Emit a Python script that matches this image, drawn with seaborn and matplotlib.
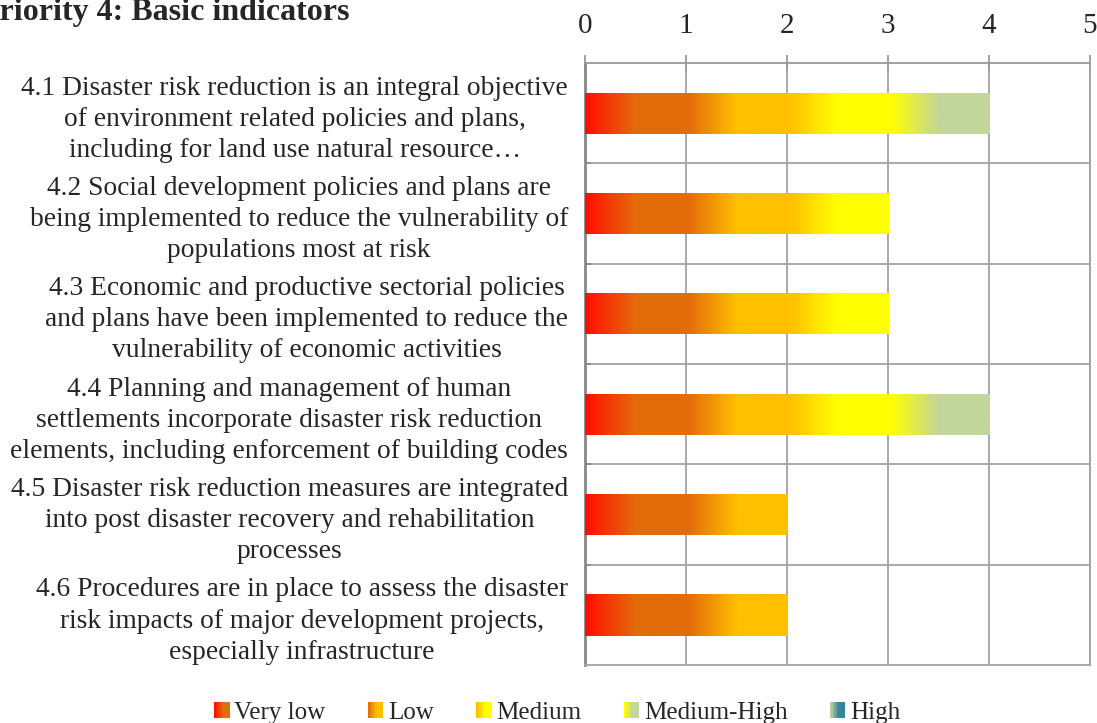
import numpy as np
import pandas as pd
import matplotlib
matplotlib.use("Agg")
import matplotlib.pyplot as plt
from matplotlib.colors import to_rgb
from matplotlib.patches import Rectangle
from matplotlib.legend_handler import HandlerBase
import seaborn as sns

# data
indicators = [
    "4.1 Disaster risk reduction is an integral objective\nof environment related policies and plans,\nincluding for land use natural resource\u2026",
    "4.2 Social development policies and plans are\nbeing implemented to reduce the vulnerability of\npopulations most at risk",
    "4.3 Economic and productive sectorial policies\nand plans have been implemented to reduce the\nvulnerability of economic activities",
    "4.4 Planning and management of human\nsettlements incorporate disaster risk reduction\nelements, including enforcement of building codes",
    "4.5 Disaster risk reduction measures are integrated\ninto post disaster recovery and rehabilitation\nprocesses",
    "4.6 Procedures are in place to assess the disaster\nrisk impacts of major development projects,\nespecially infrastructure",
]
scores = [4, 3, 3, 4, 2, 2]
levels = ["Very low", "Low", "Medium", "Medium-High", "High"]
level_colors = ["#E36C0A", "#FFC000", "#FFFF00", "#C3D69B", "#31859C"]
start_color = "#FF1000"
x_ticks = [0, 1, 2, 3, 4, 5]

df = pd.DataFrame({"indicator": indicators, "score": scores})

sns.set_theme(style="white")
plt.rcParams["font.family"] = ["Liberation Serif", "DejaVu Serif"]

fig = plt.figure(figsize=(10.97, 7.23), dpi=100)
ax = fig.add_axes([0.533, 0.080, 0.4605, 0.833])

sns.barplot(data=df, x="score", y="indicator", orient="h", width=0.41,
            color="white", edgecolor="none", ax=ax)

# colour ramp: each level fades in from the previous colour over its first half
starts = [to_rgb(start_color)] + [to_rgb(c) for c in level_colors[:-1]]
ends = [to_rgb(c) for c in level_colors]


def ramp(xs):
    out = np.zeros((len(xs), 3))
    for i, x in enumerate(xs):
        k = min(int(np.floor(x)), len(levels) - 1)
        t = np.clip((x - k - 0.02) / 0.48, 0, 1)
        out[i] = np.array(starts[k]) * (1 - t) + np.array(ends[k]) * t
    return out


for patch in ax.patches:
    x0, y0 = patch.get_x(), patch.get_y()
    w, h = patch.get_width(), patch.get_height()
    if w <= 0:
        continue
    xs = np.linspace(x0, x0 + w, 400, endpoint=False) + w / 800
    img = ramp(xs)[np.newaxis, :, :]
    im = ax.imshow(img, extent=[x0, x0 + w, y0 + h, y0], aspect="auto",
                   interpolation="bilinear", zorder=3)
    im.set_clip_path(patch)

ax.set_xlim(0, 5)
ax.set_ylim(len(indicators) - 0.5, -0.5)
ax.set_aspect("auto")
ax.set_xticks(x_ticks)
ax.set_yticks(range(len(indicators)))
ax.set_yticklabels(indicators, multialignment="center", linespacing=1.32)
ax.set_yticks([i + 0.5 for i in range(len(indicators) - 1)], minor=True)
ax.set_xlabel("")
ax.set_ylabel("")

ax.xaxis.tick_top()
ax.tick_params(axis="x", which="major", direction="inout", length=12, width=1.3,
               color="#9a9a9a", pad=11, labelsize=21)
ax.tick_params(axis="y", which="major", length=0, pad=12, labelsize=19.8)
ax.tick_params(axis="y", which="minor", left=True, direction="in", length=4,
               width=1.3, color="#8a8a8a")

ax.grid(True, axis="x", which="major", color="#a3a3a3", lw=1.3, zorder=0)
ax.grid(True, axis="y", which="minor", color="#a3a3a3", lw=1.3, zorder=0)
ax.set_axisbelow(True)
for name, sp in ax.spines.items():
    sp.set_visible(True)
    sp.set_color("#a3a3a3")
    sp.set_linewidth(1.3)
ax.spines["left"].set_color("#888888")
ax.spines["left"].set_linewidth(2)
ax.spines["top"].set_color("#999999")

fig.text(-0.018, 0.972, "Priority 4: Basic indicators", fontsize=23,
         fontweight="bold", ha="left", va="baseline")


# gradient legend keys
class GradientHandler(HandlerBase):
    def __init__(self, c0, c1):
        super().__init__()
        self.c0, self.c1 = np.array(to_rgb(c0)), np.array(to_rgb(c1))

    def create_artists(self, legend, orig_handle, xdescent, ydescent,
                       width, height, fontsize, trans):
        n = 10
        arts = []
        for j in range(n):
            t = min(j / (n * 0.55), 1)
            c = self.c0 * (1 - t) + self.c1 * t
            r = Rectangle((-xdescent + width * j / n, -ydescent), width / n + 0.3,
                          height, facecolor=c, edgecolor="none", transform=trans)
            arts.append(r)
        return arts


handles = [Rectangle((0, 0), 1, 1) for _ in levels]
handler_map = {h: GradientHandler(s, e) for h, s, e in zip(handles, starts, ends)}
fig.legend(handles, levels, handler_map=handler_map, loc="center",
           bbox_to_anchor=(0.508, 0.014), ncol=5, frameon=False, fontsize=18,
           handlelength=0.6, handleheight=0.6, handletextpad=0.2,
           columnspacing=1.7, borderpad=0.1)

fig.savefig("out.png", dpi=100)
